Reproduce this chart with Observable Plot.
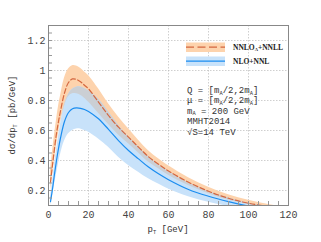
<!DOCTYPE html>
<html><head><meta charset="utf-8">
<script src="https://cdn.jsdelivr.net/npm/d3@7"></script>
<script src="https://cdn.jsdelivr.net/npm/@observablehq/plot@0.6"></script>
<style>body{margin:0;background:#fff}svg{display:block}</style>
</head><body><div id="c"></div>
<script>
const pT = [1,2,3,4,5,6,8,10,12,14,16,18,20,25,30,35,40,45,50,55,60,70,80,90,100,110,120];
const nnloMid = [0.255,0.37,0.48,0.58,0.66,0.73,0.85,0.92,0.944,0.94,0.925,0.902,0.878,0.789,0.700,0.622,0.556,0.489,0.425,0.375,0.330,0.255,0.195,0.148,0.115,0.093,0.075];
const nnloHi  = [0.33,0.46,0.57,0.67,0.76,0.83,0.95,1.01,1.032,1.03,1.015,0.99,0.967,0.878,0.778,0.69,0.611,0.535,0.465,0.412,0.365,0.285,0.222,0.172,0.135,0.106,0.088];
const nnloLo  = [0.20,0.30,0.40,0.50,0.58,0.65,0.76,0.825,0.845,0.845,0.835,0.815,0.79,0.715,0.64,0.57,0.511,0.45,0.39,0.345,0.302,0.233,0.178,0.135,0.106,0.085,0.068];
const nloMid  = [0.125,0.21,0.31,0.40,0.48,0.55,0.66,0.72,0.745,0.751,0.748,0.74,0.727,0.678,0.607,0.533,0.467,0.411,0.356,0.311,0.272,0.207,0.162,0.126,0.096,0.075,0.06];
const nloHi   = [0.15,0.26,0.37,0.47,0.56,0.64,0.77,0.84,0.875,0.889,0.89,0.88,0.865,0.81,0.725,0.635,0.556,0.49,0.425,0.372,0.326,0.25,0.194,0.15,0.114,0.09,0.072];
const nloLo   = [0.10,0.16,0.24,0.31,0.38,0.44,0.53,0.578,0.60,0.61,0.61,0.60,0.589,0.544,0.489,0.422,0.367,0.322,0.278,0.244,0.21,0.158,0.122,0.094,0.072,0.056,0.045];
const xTicks = [0,20,40,60,80,100,120];
const yTicks = [0.2,0.4,0.6,0.8,1,1.2];
const xDomain = [0,120];
const yDomain = [0.1,1.3];
const legendLabels = [["NNLO","A","+NNLL"],["NLO+NNL","",""]];

const C = {oBand:"#fdd3ad", oLine:"#d4673f", bBand:"#c8e2fa", bLine:"#1b8df0", overlap:"#cbcfd4"};

const rows = pT.map((x,i)=>({x, om:nnloMid[i], oh:nnloHi[i], ol:nnloLo[i], bm:nloMid[i], bh:nloHi[i], bl:nloLo[i],
  gy2: Math.max(nnloLo[i], Math.min(nnloHi[i], nloHi[i]))}));

const minorX = d3.range(0,121,5);
const minorY = d3.range(10,131,5).map(v=>v/100);
const font = "Liberation Mono, Courier New, monospace";
const curve = "catmull-rom";

const svg = Plot.plot({
  width: 321, height: 242,
  marginLeft: 48, marginRight: 33, marginTop: 25, marginBottom: 37,
  style: {fontFamily: font, background: "#fff"},
  x: {domain: xDomain, label: null},
  y: {domain: yDomain, label: null},
  marks: [
    Plot.gridX(xTicks, {stroke:"#bbb", strokeOpacity:0.7, strokeDasharray:"1.5,1.5"}),
    Plot.gridY(yTicks, {stroke:"#bbb", strokeOpacity:0.7, strokeDasharray:"1.5,1.5"}),
    Plot.areaY(rows, {x:"x", y1:"ol", y2:"oh", fill:C.oBand, curve, clip:true}),
    Plot.areaY(rows, {x:"x", y1:"bl", y2:"bh", fill:C.bBand, curve, clip:true}),
    Plot.areaY(rows, {x:"x", y1:"ol", y2:"gy2", fill:C.overlap, curve, clip:true}),
    Plot.line(rows, {x:"x", y:"bm", stroke:C.bLine, strokeWidth:1.2, curve, clip:true}),
    Plot.line(rows, {x:"x", y:"om", stroke:C.oLine, strokeWidth:1.2, strokeDasharray:"5,2.5", curve, clip:true}),
    Plot.axisX(minorX, {tickSize:-4, tickFormat:()=>"", stroke:"#999", label:null}),
    Plot.axisY(minorY, {tickSize:-4, tickFormat:()=>"", stroke:"#999", label:null}),
    Plot.axisX(xTicks, {tickSize:0, tickPadding:5, fontSize:10, fill:"#444", label:null}),
    Plot.axisY(yTicks, {tickSize:0, tickPadding:3, fontSize:10, fill:"#444", label:null, tickFormat:d=>String(d)}),
    Plot.frame({stroke:"#888"})
  ]
});

const s = d3.select(svg);
function rich(g, x, y, parts, size, opts={}) {
  const t = g.append("text").attr("x",x).attr("y",y).attr("font-size",size)
    .attr("fill", opts.fill||"#333").attr("font-family", opts.family||font)
    .attr("text-anchor", opts.anchor||"start");
  if (opts.weight) t.attr("font-weight", opts.weight);
  if (opts.transform) t.attr("transform", opts.transform);
  parts.forEach(p=>{
    if (!p.t) return;
    if (p.sub) t.append("tspan").attr("dy",1.5).attr("font-size",size*0.6).text(p.t);
    else t.append("tspan").attr("dy", p.after?-1.5:0).text(p.t);
  });
  return t;
}
const g = s.append("g");
// axis titles
rich(g, 0, 0, [{t:"dσ/dp"},{t:"T",sub:true},{t:" [pb/GeV]",after:true}], 9, {anchor:"middle", transform:"translate(15,115) rotate(-90)"});
rich(g, 168, 232, [{t:"p"},{t:"T",sub:true},{t:" [GeV]",after:true}], 9, {anchor:"middle"});
// legend
g.append("rect").attr("x",186).attr("y",42.5).attr("width",39).attr("height",9.5).attr("fill",C.oBand);
g.append("line").attr("x1",186).attr("x2",225).attr("y1",47.2).attr("y2",47.2).attr("stroke",C.oLine).attr("stroke-width",1.2).attr("stroke-dasharray","8,3.5");
g.append("rect").attr("x",186).attr("y",56.5).attr("width",39).attr("height",9.5).attr("fill",C.bBand);
g.append("line").attr("x1",186).attr("x2",225).attr("y1",61.2).attr("y2",61.2).attr("stroke",C.bLine).attr("stroke-width",1.2);
const lf = "Liberation Serif, Times New Roman, serif";
rich(g, 233, 49.5, [{t:legendLabels[0][0]},{t:legendLabels[0][1],sub:true},{t:legendLabels[0][2],after:true}], 7.5, {family:lf, weight:"bold", fill:"#222"});
rich(g, 233, 63.5, [{t:legendLabels[1][0]}], 7.5, {family:lf, weight:"bold", fill:"#222"});
// annotations
const ann = [
  [{t:"Q = [m"},{t:"A",sub:true},{t:"/2,2m",after:true},{t:"A",sub:true},{t:"]",after:true}],
  [{t:"μ = [m"},{t:"A",sub:true},{t:"/2,2m",after:true},{t:"A",sub:true},{t:"]",after:true}],
  [{t:"m"},{t:"A",sub:true},{t:" = 200 GeV",after:true}],
  [{t:"MMHT2014"}],
  [{t:"√S=14 TeV"}]
];
ann.forEach((p,i)=>rich(g, 187, 93 + i*10.4, p, 9));
document.getElementById("c").appendChild(svg);
</script></body></html>
